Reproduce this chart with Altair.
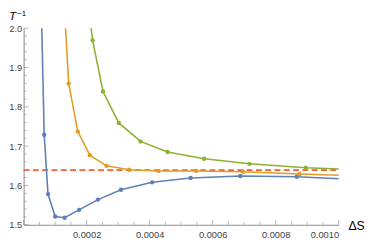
import altair as alt
import pandas as pd

# ---- data ----
blue_x = [5.48e-5, 6.52e-5, 7.73e-5, 1.00e-4, 1.30e-4, 1.76e-4, 2.36e-4, 3.09e-4, 4.08e-4, 5.30e-4, 6.88e-4, 8.67e-4, 1.09e-3]
blue_y = [2.10, 1.729, 1.578, 1.521, 1.518, 1.538, 1.564, 1.589, 1.608, 1.619, 1.624, 1.622, 1.614]
orange_x = [1.26e-4, 1.43e-4, 1.72e-4, 2.10e-4, 2.63e-4, 3.35e-4, 4.28e-4, 5.48e-4, 6.97e-4, 8.76e-4, 1.10e-3]
orange_y = [2.10, 1.859, 1.737, 1.677, 1.650, 1.640, 1.637, 1.637, 1.635, 1.629, 1.6236]
green_x = [1.99e-4, 2.19e-4, 2.52e-4, 3.02e-4, 3.71e-4, 4.57e-4, 5.73e-4, 7.17e-4, 8.96e-4, 1.12e-3]
green_y = [2.10, 1.969, 1.839, 1.759, 1.712, 1.685, 1.668, 1.655, 1.645, 1.6385]
limit_y = 1.639

x_labels = [0.0002, 0.0004, 0.0006, 0.0008, 0.0010]
y_labels = [1.5, 1.6, 1.7, 1.8, 1.9, 2.0]
x_ticks = [i * 0.00005 for i in range(21)]
y_ticks = [round(1.5 + i * 0.02, 2) for i in range(26)]

series_names = ["a", "b", "c"]
series_colors = ["#5E81B5", "#E19C24", "#8FB032"]

rows = []
for name, xs_, ys_ in zip(series_names, [blue_x, orange_x, green_x], [blue_y, orange_y, green_y]):
    for i, (xv, yv) in enumerate(zip(xs_, ys_)):
        rows.append({"s": name, "x": xv, "y": yv, "i": i})
df = pd.DataFrame(rows)

W, H = 322, 201

xs = alt.Scale(domain=[0, 0.001], nice=False, zero=False)
ys = alt.Scale(domain=[1.5, 2.0], nice=False, zero=False)
col = alt.Color("s:N", scale=alt.Scale(domain=series_names, range=series_colors), legend=None)

x_enc = alt.X("x:Q", scale=xs, title=None,
              axis=alt.Axis(values=x_labels, format=".4f", ticks=False, grid=False,
                            labelPadding=5, domainColor="#888888", labelColor="#444444",
                            labelFont="Liberation Sans", labelFontSize=9.5))
y_enc = alt.Y("y:Q", scale=ys, title=None,
              axis=alt.Axis(values=y_labels, format=".1f", ticks=False, grid=False,
                            labelPadding=2, domainColor="#888888", labelColor="#444444",
                            labelFont="Liberation Sans", labelFontSize=9.5))

limit = alt.Chart(pd.DataFrame({"y": [limit_y]})).mark_rule(
    color="#EB6235", strokeWidth=1.6, strokeDash=[6, 3.5]
).encode(y=alt.Y("y:Q", scale=ys), x=alt.value(0), x2=alt.value(W))

lines = alt.Chart(df).mark_line(strokeWidth=1.6, clip=True).encode(
    x=x_enc, y=y_enc, color=col, detail="s:N", order="i:Q"
)
points = alt.Chart(df).mark_circle(size=20, opacity=1, clip=True).encode(
    x=alt.X("x:Q", scale=xs), y=alt.Y("y:Q", scale=ys), color=col
)

xt = pd.DataFrame({"x": x_ticks, "major": [i % 4 == 0 for i in range(21)]})
yt = pd.DataFrame({"y": y_ticks, "major": [i % 5 == 0 for i in range(26)]})

xt_major = alt.Chart(xt[xt.major]).mark_tick(orient="vertical", size=5, thickness=1, yOffset=-2.5, color="#999999").encode(
    x=alt.X("x:Q", scale=xs), y=alt.datum(1.5))
xt_minor = alt.Chart(xt[~xt.major]).mark_tick(orient="vertical", size=3, thickness=1, yOffset=-1.5, color="#999999").encode(
    x=alt.X("x:Q", scale=xs), y=alt.datum(1.5))
yt_major = alt.Chart(yt[yt.major]).mark_tick(orient="horizontal", size=5, thickness=1, xOffset=2.5, color="#999999").encode(
    y=alt.Y("y:Q", scale=ys), x=alt.datum(0))
yt_minor = alt.Chart(yt[~yt.major]).mark_tick(orient="horizontal", size=3, thickness=1, xOffset=1.5, color="#999999").encode(
    y=alt.Y("y:Q", scale=ys), x=alt.datum(0))

t_main = alt.Chart(pd.DataFrame({"t": ["T"]})).mark_text(
    font="Liberation Sans", fontSize=12, fontStyle="italic", align="left", baseline="alphabetic", color="#000000"
).encode(x=alt.value(-15), y=alt.value(-8.5), text="t:N")
t_sup = alt.Chart(pd.DataFrame({"t": ["\u22121"]})).mark_text(
    font="Liberation Sans", fontSize=8, align="left", baseline="alphabetic", color="#000000"
).encode(x=alt.value(-6.5), y=alt.value(-12.5), text="t:N")
ds = alt.Chart(pd.DataFrame({"t": ["\u0394S"]})).mark_text(
    font="Liberation Sans", fontSize=12.5, align="left", baseline="alphabetic", color="#000000"
).encode(x=alt.value(W + 10), y=alt.value(H + 5), text="t:N")

chart = alt.layer(
    limit, xt_major, xt_minor, yt_major, yt_minor, lines, points, t_main, t_sup, ds
).properties(
    width=W, height=H,
    autosize=alt.AutoSizeParams(type="none"),
    padding={"left": 16, "top": 18, "right": 28, "bottom": 16},
).configure_view(strokeWidth=0)

chart.save("out.html", embed_options={"renderer": "svg", "actions": False})
